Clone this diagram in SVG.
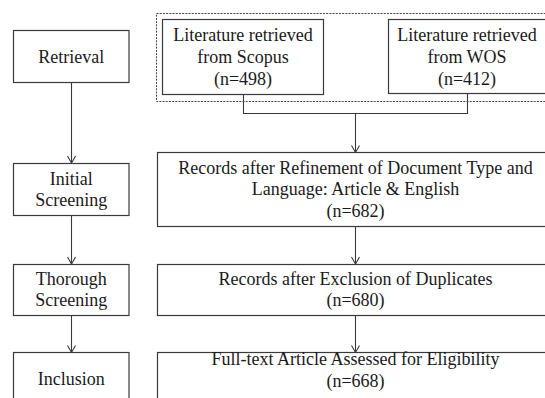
<svg xmlns="http://www.w3.org/2000/svg" width="545" height="398" viewBox="0 0 545 398">
<style>
.box{fill:#fff;stroke:#3a3a3a;stroke-width:1.2}
.dash{fill:none;stroke:#444;stroke-width:1;stroke-dasharray:2 1.2}
.ln{fill:none;stroke:#3a3a3a;stroke-width:1.1}
</style>
<defs>
<marker id="arr" viewBox="-8 -5 9 10" refX="0" refY="0" markerWidth="9" markerHeight="10" markerUnits="userSpaceOnUse" orient="auto">
<path d="M-7,-4 L0,0 L-7,4" fill="none" stroke="#3a3a3a" stroke-width="1.1"/>
</marker>
</defs>
<rect width="545" height="398" fill="#fff"/>
<g id="sources-group"><rect class="dash" x="156.5" y="13.5" width="400" height="88"/></g>
<g id="connectors">
<path class="ln" d="M71.5,82.5 V163" marker-end="url(#arr)"/>
<path class="ln" d="M71.5,215.5 V264" marker-end="url(#arr)"/>
<path class="ln" d="M71.5,315.5 V352.5" marker-end="url(#arr)"/>
<path class="ln" d="M243.5,94.5 V113.5 H467.5 V94"/>
<path class="ln" d="M355.5,113.5 V152.5" marker-end="url(#arr)"/>
<path class="ln" d="M355.5,226.5 V264" marker-end="url(#arr)"/>
<path class="ln" d="M355.5,315.5 V352.5" marker-end="url(#arr)"/>
</g>
<g font-family="Liberation Serif" font-size="18" fill="#1a1a1a" text-anchor="middle">
<g id="retrieval"><rect class="box" x="13.5" y="30.5" width="115.5" height="52"/><text x="71.3" y="63">Retrieval</text></g>
<g id="scopus"><rect class="box" x="162.5" y="19.5" width="161" height="75"/>
<text x="243" y="41">Literature retrieved</text><text x="243" y="63">from Scopus</text><text x="243" y="85">(n=498)</text></g>
<g id="wos"><rect class="box" x="388.5" y="19.5" width="158" height="74"/>
<text x="467" y="41">Literature retrieved</text><text x="467" y="63">from WOS</text><text x="467" y="85">(n=412)</text></g>
<g id="initial-screening"><rect class="box" x="13.5" y="163.5" width="115.5" height="52"/>
<text x="71.3" y="185">Initial</text><text x="71.3" y="206">Screening</text></g>
<g id="refinement"><rect class="box" x="157.5" y="152.5" width="400" height="74"/>
<text x="355.5" y="173.5">Records after Refinement of Document Type and</text><text x="355.5" y="195">Language: Article &amp; English</text><text x="355.5" y="216.5">(n=682)</text></g>
<g id="thorough-screening"><rect class="box" x="13.5" y="264.5" width="115.5" height="51"/>
<text x="71.3" y="285">Thorough</text><text x="71.3" y="306">Screening</text></g>
<g id="duplicates"><rect class="box" x="157.5" y="264.5" width="400" height="51"/>
<text x="355.5" y="285">Records after Exclusion of Duplicates</text><text x="355.5" y="306">(n=680)</text></g>
<g id="inclusion"><rect class="box" x="13.5" y="352.5" width="115.5" height="52"/><text x="71.3" y="385">Inclusion</text></g>
<g id="eligibility"><rect class="box" x="157.5" y="352.5" width="400" height="52"/>
<text x="355.5" y="365">Full-text Article Assessed for Eligibility</text><text x="355.5" y="386.5">(n=668)</text></g>
</g>
</svg>
